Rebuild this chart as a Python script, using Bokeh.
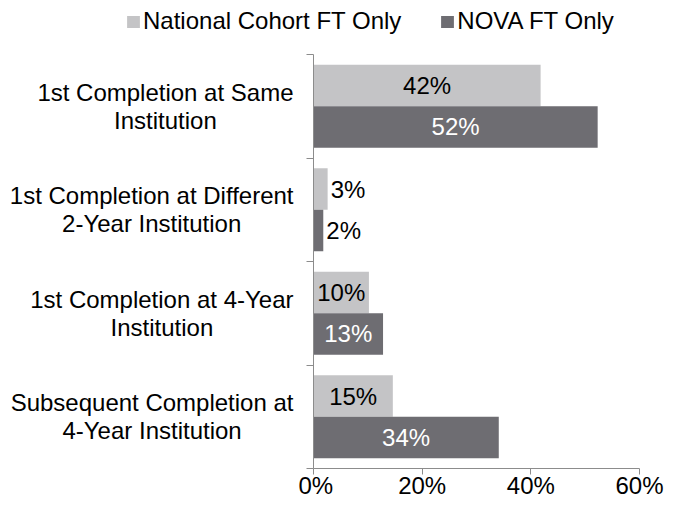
import numpy as np
from bokeh.plotting import figure
from bokeh.layouts import column, row
from bokeh.models import (ColumnDataSource, Range1d, FixedTicker, PrintfTickFormatter,
                          Legend, LegendItem)
from bokeh.models.glyphs import Text
from bokeh.transform import dodge
from bokeh.core.properties import value
from bokeh.embed import file_html
from bokeh.resources import INLINE

# ---- data ----
categories = [
    "1st Completion at Same\nInstitution",
    "1st Completion at Different\n2-Year Institution",
    "1st Completion at 4-Year\nInstitution",
    "Subsequent Completion at\n4-Year Institution",
]
national_ft = [41.8, 2.6, 10.2, 14.6]
nova_ft = [52.3, 1.8, 12.8, 34.1]
series_names = ["National Cohort FT Only", "NOVA FT Only"]
x_ticks = [0, 20, 40, 60]

# ---- style ----
FONT = "Liberation Sans"
FS = "24px"
LIGHT = "#c4c4c6"
DARK = "#6e6d72"
AXIS = "#8c8c8c"
W = 678
LEG_H = 44
TOP = 10
FRAME_W = 326
FRAME_H = 414
LABEL_W = 298
RIGHT = 39

n = len(categories)
ypos = [n - 0.5 - i for i in range(n)]
src = ColumnDataSource(dict(y=ypos, cat=categories, nat=national_ft, nova=nova_ft))

# ---------------- main chart ----------------
p = figure(frame_width=FRAME_W, frame_height=FRAME_H,
           min_border_left=W - LABEL_W - FRAME_W - RIGHT, min_border_right=RIGHT,
           min_border_top=TOP, min_border_bottom=10,
           x_range=Range1d(x_ticks[0], x_ticks[-1]), y_range=Range1d(0, n),
           output_backend="svg", toolbar_location=None)

r1 = p.hbar(y=dodge('y', 0.2), left=0, right='nat', height=0.4, source=src,
            fill_color=LIGHT, line_color=None)
r2 = p.hbar(y=dodge('y', -0.2), left=0, right='nova', height=0.4, source=src,
            fill_color=DARK, line_color=None)

# bar value labels
lx, ly, lt, la, lc, lo = [], [], [], [], [], []
for vals, off, inside_col in ((national_ft, 0.2, "#000000"), (nova_ft, -0.2, "#ffffff")):
    for yc, v in zip(ypos, vals):
        ly.append(yc + off)
        lt.append(f"{round(v)}%")
        if v >= 5:
            lx.append(v / 2); la.append("center"); lc.append(inside_col); lo.append(0)
        else:
            lx.append(v); la.append("left"); lc.append("#000000"); lo.append(3)
lsrc = ColumnDataSource(dict(x=lx, y=ly, t=lt, a=la, c=lc, o=lo))
p.text(x='x', y='y', text='t', text_align='a', text_color='c', x_offset='o',
       text_baseline="middle", text_font=value(FONT), text_font_size=FS, source=lsrc)

xa = p.xaxis[0]
xa.ticker = FixedTicker(ticks=x_ticks)
xa.formatter = PrintfTickFormatter(format="%d%%")
xa.major_label_text_font = FONT
xa.major_label_text_font_size = FS
xa.major_label_text_color = "#000000"
xa.axis_line_color = AXIS
xa.major_tick_line_color = AXIS
xa.major_tick_out = 6
xa.major_tick_in = 0
xa.minor_tick_out = 0
xa.major_label_standoff = -3

ya = p.yaxis[0]
ya.ticker = FixedTicker(ticks=[], minor_ticks=list(range(n + 1)))
ya.major_label_standoff = 0
ya.axis_line_color = AXIS
ya.major_tick_out = 0
ya.major_tick_in = 0
ya.minor_tick_out = 7
ya.minor_tick_in = 0
ya.minor_tick_line_color = AXIS

p.xgrid.visible = False
p.ygrid.visible = False
p.outline_line_color = None

# ---------------- category labels (left) ----------------
pl = figure(width=LABEL_W, frame_width=LABEL_W, frame_height=FRAME_H,
            min_border_left=0, min_border_right=0, min_border_top=TOP, min_border_bottom=0,
            x_range=Range1d(0, LABEL_W), y_range=Range1d(0, n),
            x_axis_location=None, y_axis_location=None,
            output_backend="svg", toolbar_location=None)
pl.xgrid.visible = False
pl.ygrid.visible = False
pl.outline_line_color = None
csrc = ColumnDataSource(dict(y=ypos, cat=categories, x=[LABEL_W - 5] * n))
kw = dict(x='x', y='y', text='cat', text_baseline="middle", text_color="#000000",
          text_font=value(FONT), text_font_size=FS, text_line_height=1.03, source=csrc)
if "anchor" in Text.properties():
    pl.text(text_align="center", anchor=value("center_right"), **kw)
else:
    pl.text(text_align="right", **kw)

# ---------------- legend strip ----------------
pg = figure(width=W, height=LEG_H, min_border=0,
            x_range=Range1d(0, W), y_range=Range1d(0, LEG_H),
            x_axis_location=None, y_axis_location=None,
            output_backend="svg", toolbar_location=None)
pg.xgrid.visible = False
pg.ygrid.visible = False
pg.outline_line_color = None
# legend key renderers (placed outside the visible strip)
key_src = ColumnDataSource(dict(y=[-100], r=[1]))
g1 = pg.hbar(y='y', right='r', height=1, source=key_src, fill_color=LIGHT, line_color=None)
g2 = pg.hbar(y='y', right='r', height=1, source=key_src, fill_color=DARK, line_color=None)
legend = Legend(items=[LegendItem(label=series_names[0], renderers=[g1]),
                       LegendItem(label=series_names[1], renderers=[g2])],
                orientation="horizontal", location=(125, 9),
                label_text_font=FONT, label_text_font_size=FS, label_text_color="#000000",
                glyph_width=16, glyph_height=15, label_standoff=2, spacing=38,
                padding=0, margin=0, border_line_color=None, background_fill_alpha=0)
pg.add_layout(legend)

layout = column(pg, row(pl, p))
open("out.html", "w").write(file_html(layout, INLINE))
